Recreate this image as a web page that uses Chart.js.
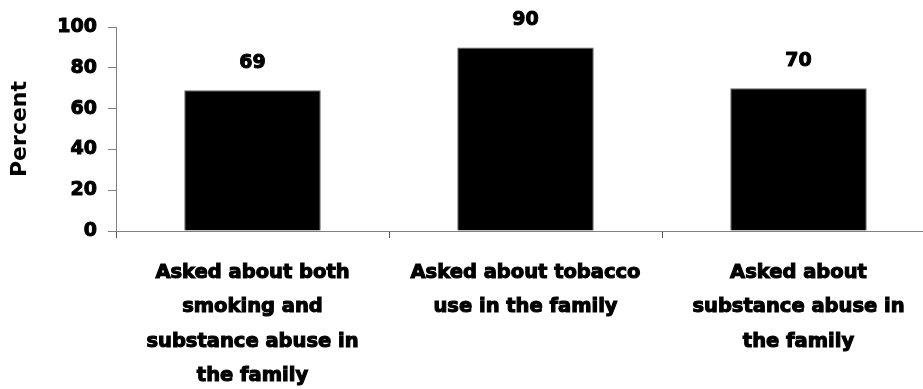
<!DOCTYPE html>
<html>
<head>
<meta charset="utf-8">
<script src="https://cdn.jsdelivr.net/npm/chart.js@4"></script>
<style>
  html, body { margin: 0; padding: 0; background: #fff; overflow: hidden; }
  #wrap { width: 940px; height: 389px; position: relative; }
</style>
</head>
<body>
<div id="wrap"><canvas id="c"></canvas></div>
<script>
const categories = [
  ["Asked about both", "smoking and", "substance abuse in", "the family"],
  ["Asked about tobacco", "use in the family"],
  ["Asked about", "substance abuse in", "the family"]
];
const percentValues = [69, 90, 70];
const yTickValues = [0, 20, 40, 60, 80, 100];

const FONT = "'DejaVu Sans', sans-serif";
const AXIS = '#808080';

const valueLabels = {
  id: 'valueLabels',
  afterDatasetsDraw(chart) {
    const ctx = chart.ctx;
    const meta = chart.getDatasetMeta(0);
    ctx.save();
    ctx.font = 'bold 19px ' + FONT;
    ctx.fillStyle = '#000';
    ctx.strokeStyle = '#000';
    ctx.lineWidth = 1;
    ctx.lineJoin = 'round';
    ctx.textAlign = 'center';
    ctx.textBaseline = 'alphabetic';
    meta.data.forEach((bar, i) => {
      ctx.strokeText(String(percentValues[i]), bar.x, bar.y - 22);
      ctx.fillText(String(percentValues[i]), bar.x, bar.y - 22);
    });
    ctx.restore();
  }
};

new Chart(document.getElementById('c'), {
  type: 'bar',
  data: {
    labels: categories,
    datasets: [{
      data: percentValues,
      backgroundColor: '#000',
      borderColor: '#666',
      borderWidth: 1,
      categoryPercentage: 1,
      barPercentage: 0.5
    }]
  },
  options: {
    responsive: true,
    maintainAspectRatio: false,
    animation: false,
    layout: { padding: { top: 27, right: 5, left: 0, bottom: 0 } },
    plugins: { legend: { display: false }, tooltip: { enabled: false } },
    scales: {
      x: {
        afterFit(scale) { scale.height = 158; },
        border: { color: AXIS, width: 1 },
        grid: { offset: true, drawOnChartArea: false, drawTicks: true, tickLength: 7, color: '#555' },
        ticks: {
          color: '#000',
          textStrokeColor: '#000',
          textStrokeWidth: 1.1,
          padding: 18,
          maxRotation: 0,
          autoSkip: false,
          font: { family: FONT, size: 19.5, weight: 'bold', lineHeight: 1.755 }
        }
      },
      y: {
        min: 0,
        max: 100,
        afterFit(scale) { scale.width = 116; },
        afterBuildTicks(scale) { scale.ticks = yTickValues.map(v => ({ value: v })); },
        border: { color: AXIS, width: 1 },
        grid: { drawOnChartArea: false, drawTicks: true, tickLength: 8, color: AXIS },
        ticks: {
          color: '#000',
          textStrokeColor: '#000',
          textStrokeWidth: 1,
          padding: 11,
          font: { family: FONT, size: 19, weight: 'bold' }
        },
        title: {
          display: true,
          text: 'Percent',
          color: '#000',
          padding: { top: 7, bottom: 0 },
          font: { family: FONT, size: 22, weight: 'bold' }
        }
      }
    }
  },
  plugins: [valueLabels]
});
</script>
</body>
</html>
